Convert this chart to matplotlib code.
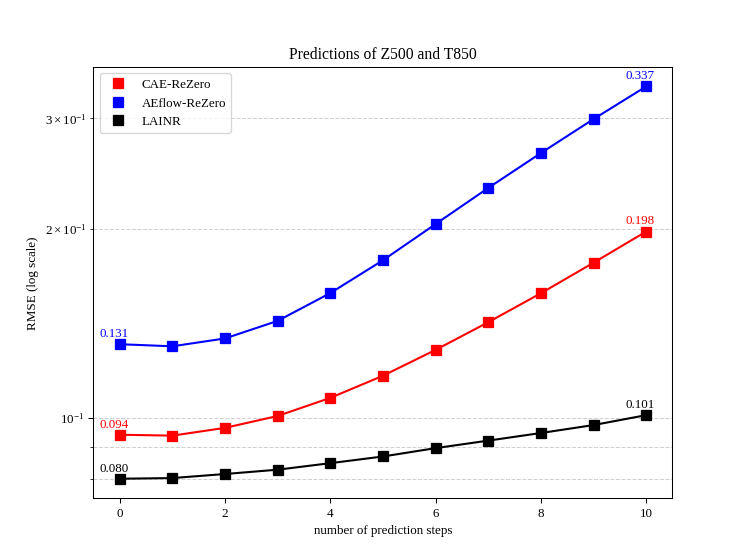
import matplotlib
matplotlib.use("Agg")
import matplotlib.pyplot as plt
from matplotlib.lines import Line2D

# === Data ===
steps = list(range(11))
cae_rezero = [0.094, 0.0937, 0.0964, 0.1007, 0.1076, 0.1167, 0.1283, 0.1420, 0.1579, 0.1766, 0.198]
aeflow_rezero = [0.131, 0.1300, 0.1338, 0.1427, 0.1580, 0.1782, 0.2035, 0.2323, 0.2640, 0.2990, 0.337]
lainr = [0.080, 0.0802, 0.0814, 0.0827, 0.0847, 0.0868, 0.0895, 0.0920, 0.0946, 0.0974, 0.101]

series = [
    ("CAE-ReZero", cae_rezero, "red"),
    ("AEflow-ReZero", aeflow_rezero, "blue"),
    ("LAINR", lainr, "black"),
]

plt.rcParams["font.family"] = "serif"
plt.rcParams["font.serif"] = ["Liberation Serif", "DejaVu Serif"]
plt.rcParams["mathtext.fontset"] = "stix"

fig, ax = plt.subplots(figsize=(8, 6), dpi=93.4)

for name, vals, color in series:
    ax.plot(steps, vals, color=color, marker="s", markersize=7, linewidth=1.6)
    # label first and last values
    for i in (0, -1):
        ax.annotate(f"{vals[i]:.3f}", (steps[i], vals[i]), textcoords="offset points",
                    xytext=(-4.5, 3.5), ha="center", va="bottom", color=color, fontsize=10)

ax.set_yscale("log")
ax.grid(True, which="both", axis="y", linestyle="--", color="#d0d0d0", linewidth=0.8)
ax.set_axisbelow(True)

ax.set_title("Predictions of Z500 and T850", fontsize=12)
ax.set_xlabel("number of prediction steps", fontsize=10)
ax.set_ylabel("RMSE (log scale)", fontsize=10)

handles = [Line2D([], [], color=c, marker="s", linestyle="none", markersize=7)
           for _, _, c in series]
ax.legend(handles, [n for n, _, _ in series], loc="upper left", fontsize=10)

fig.savefig("out.png", dpi=93.4)
